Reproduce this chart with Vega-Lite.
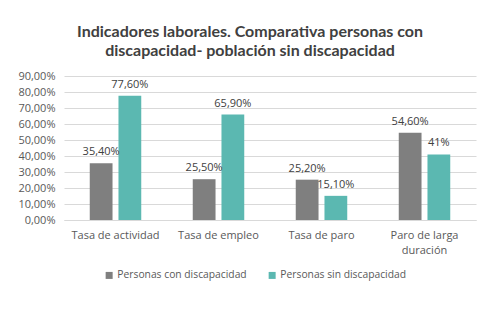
{
  "$schema": "https://vega.github.io/schema/vega-lite/v6.json",
  "autosize": {"type": "none"},
  "width": 412,
  "height": 144,
  "padding": {"left": 64, "top": 76, "right": 14, "bottom": 89},
  "background": "white",
  "title": {
    "text": ["Indicadores laborales. Comparativa personas con", "discapacidad- población sin discapacidad"],
    "anchor": "middle",
    "frame": "group",
    "dx": -20,
    "offset": 11,
    "font": "Lato",
    "fontSize": 16,
    "fontWeight": "bold",
    "color": "#404040",
    "lineHeight": 19
  },
  "data": {
    "values": [
      {"indicador": "Tasa de actividad", "grupo": "Personas con discapacidad", "valor": 0.354, "etiqueta": "35,40%"},
      {"indicador": "Tasa de actividad", "grupo": "Personas sin discapacidad", "valor": 0.776, "etiqueta": "77,60%"},
      {"indicador": "Tasa de empleo", "grupo": "Personas con discapacidad", "valor": 0.255, "etiqueta": "25,50%"},
      {"indicador": "Tasa de empleo", "grupo": "Personas sin discapacidad", "valor": 0.659, "etiqueta": "65,90%"},
      {"indicador": "Tasa de paro", "grupo": "Personas con discapacidad", "valor": 0.252, "etiqueta": "25,20%"},
      {"indicador": "Tasa de paro", "grupo": "Personas sin discapacidad", "valor": 0.151, "etiqueta": "15,10%"},
      {"indicador": "Paro de larga duración", "grupo": "Personas con discapacidad", "valor": 0.546, "etiqueta": "54,60%"},
      {"indicador": "Paro de larga duración", "grupo": "Personas sin discapacidad", "valor": 0.41, "etiqueta": "41%"}
    ]
  },
  "encoding": {
    "x": {
      "field": "indicador",
      "type": "nominal",
      "sort": null,
      "scale": {"paddingInner": 0.5, "paddingOuter": 0.25},
      "axis": {
        "title": null,
        "labelAngle": 0,
        "ticks": false,
        "domainColor": "#d9d9d9",
        "labelPadding": 9,
        "labelFont": "Open Sans",
        "labelFontSize": 11,
        "labelColor": "#595959",
        "labelLineHeight": 15,
        "labelBaseline": "top",
        "labelExpr": "datum.label == 'Paro de larga duración' ? ['Paro de larga', 'duración'] : datum.label"
      }
    },
    "xOffset": {
      "field": "grupo",
      "type": "nominal",
      "scale": {"paddingInner": 0.207, "paddingOuter": 0}
    },
    "y": {
      "field": "valor",
      "type": "quantitative",
      "scale": {"domain": [0, 0.9], "nice": false},
      "axis": {
        "title": null,
        "values": [0, 0.1, 0.2, 0.3, 0.4, 0.5, 0.6, 0.7, 0.8, 0.9],
        "format": ".2%",
        "domain": false,
        "ticks": false,
        "labelPadding": 9,
        "gridColor": "#d9d9d9",
        "labelFont": "Open Sans",
        "labelFontSize": 11,
        "labelColor": "#595959"
      }
    }
  },
  "layer": [
    {
      "mark": {"type": "bar"},
      "encoding": {
        "color": {
          "field": "grupo",
          "type": "nominal",
          "scale": {
            "domain": ["Personas con discapacidad", "Personas sin discapacidad"],
            "range": ["#7f7f7f", "#5bb8b1"]
          },
          "legend": {
            "title": null,
            "orient": "none",
            "direction": "horizontal",
            "legendX": 40,
            "legendY": 194,
            "symbolType": "square",
            "symbolSize": 49,
            "symbolStrokeWidth": 0,
            "columnPadding": 20,
            "labelFont": "Open Sans",
            "labelFontSize": 10.3,
            "labelColor": "#595959",
            "labelOffset": 3
          }
        }
      }
    },
    {
      "mark": {
        "type": "text",
        "baseline": "bottom",
        "dy": -6,
        "font": "Open Sans",
        "fontSize": 11,
        "color": "#404040"
      },
      "encoding": {"text": {"field": "etiqueta"}}
    }
  ],
  "config": {
    "view": {"stroke": null},
    "locale": {
      "number": {"decimal": ",", "thousands": ".", "grouping": [3], "currency": ["", " €"]}
    }
  }
}
